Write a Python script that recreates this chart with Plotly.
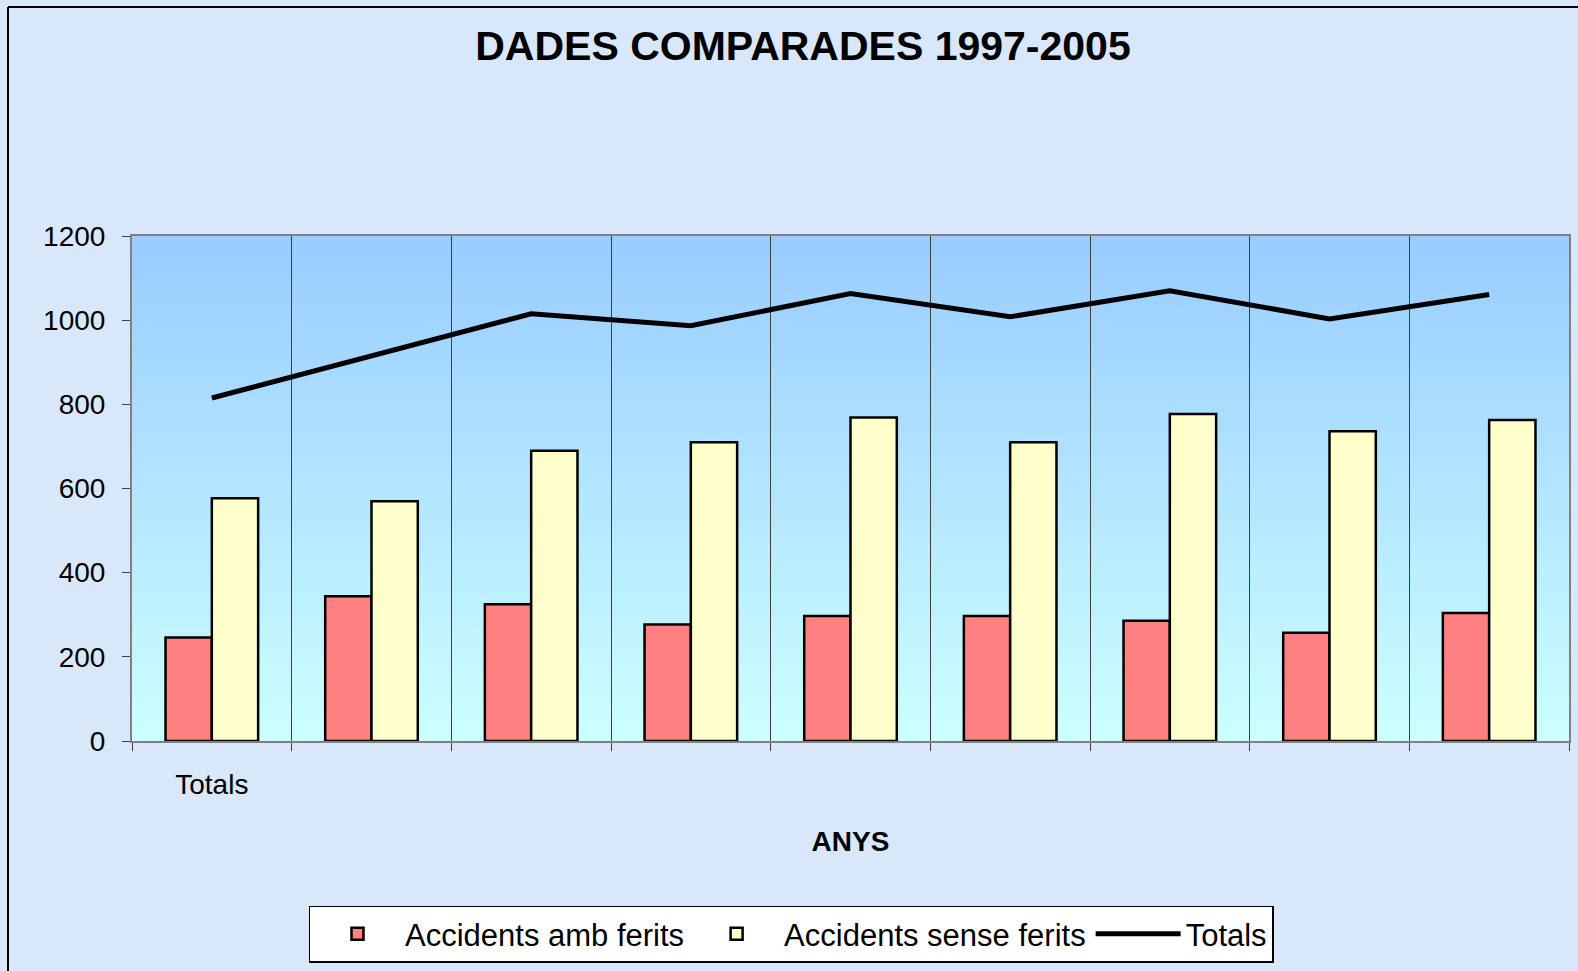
import plotly.graph_objects as go

# ---- data ----
years = ["1997", "1998", "1999", "2000", "2001", "2002", "2003", "2004", "2005"]
tick_labels = ["Totals", "", "", "", "", "", "", "", ""]
amb_ferits = [246, 344, 325, 277, 297, 297, 286, 257, 304]
sense_ferits = [577, 570, 690, 710, 769, 710, 777, 736, 763]
totals = [815, 915, 1015, 987, 1063, 1008, 1070, 1003, 1061]
y_ticks = [0, 200, 400, 600, 800, 1000, 1200]

FONT = "Liberation Sans, Arial, sans-serif"

fig = go.Figure()
fig.add_trace(go.Bar(
    x=years, y=amb_ferits, name="Accidents amb ferits",
    marker=dict(color="#FF8080", line=dict(color="black", width=2.5)),
))
fig.add_trace(go.Bar(
    x=years, y=sense_ferits, name="Accidents sense ferits",
    marker=dict(color="#FFFFCC", line=dict(color="black", width=2.5)),
))
fig.add_trace(go.Scatter(
    x=years, y=totals, name="Totals", mode="lines",
    line=dict(color="black", width=5),
))

# gradient plot-area background (top #99CCFF -> bottom #CCFFFF)
shapes = []
n = 80
top = (0x99, 0xCC, 0xFF)
bot = (0xCC, 0xFF, 0xFF)
for i in range(n):
    t = i / (n - 1)
    c = tuple(round(bot[k] + (top[k] - bot[k]) * t) for k in range(3))
    shapes.append(dict(
        type="rect", xref="x domain", yref="y domain",
        x0=0, x1=1, y0=i / n, y1=(i + 1) / n + 0.002,
        fillcolor="rgb(%d,%d,%d)" % c, line=dict(width=0), layer="below",
    ))
# outer frame lines (top and left)
W, H = 1578, 971
L, R, T, B = 132, 9, 236, 230
pw, ph = W - L - R, H - T - B
fx0 = (8 - L) / pw
fy1 = 1 + (T - 7) / ph
fy0 = -(B + 5) / ph
fx1 = 1 + (R + 5) / pw
shapes.append(dict(type="line", xref="paper", yref="paper", x0=fx0, x1=fx1, y0=fy1, y1=fy1,
                   line=dict(color="black", width=2)))
shapes.append(dict(type="line", xref="paper", yref="paper", x0=fx0, x1=fx0, y0=fy0, y1=fy1,
                   line=dict(color="black", width=2)))

fig.update_layout(
    width=W, height=H,
    margin=dict(l=L, r=R, t=T, b=B, autoexpand=False),
    paper_bgcolor="#d8e7fa",
    plot_bgcolor="rgba(0,0,0,0)",
    barmode="group", bargap=0.42, bargroupgap=0,
    font=dict(family=FONT, color="black", size=28),
    title=dict(text="<b>DADES COMPARADES 1997-2005</b>", x=803 / W, xref="container",
               xanchor="center", y=1 - 46 / H, yref="container", yanchor="middle",
               font=dict(size=41, family=FONT, color="black")),
    shapes=shapes,
    showlegend=True,
    legend=dict(orientation="h", xref="container", yref="container",
                x=791 / W, xanchor="center", y=(H - 934) / H, yanchor="middle",
                bgcolor="white", bordercolor="black", borderwidth=1.5,
                font=dict(size=31, family=FONT), itemwidth=85, traceorder="normal"),
)
fig.update_xaxes(
    type="category", tickvals=years, ticktext=tick_labels, automargin=False,
    tickson="boundaries", ticks="outside", ticklen=8, tickcolor="#404040",
    showgrid=True, gridcolor="#404040", gridwidth=1,
    showline=True, linecolor="#808080", linewidth=2, mirror=True,
    ticklabelstandoff=17, tickfont=dict(size=28),
    title=dict(text="<b>ANYS</b>", font=dict(size=28), standoff=33),
)
fig.update_yaxes(
    range=[0, 1200], tickvals=y_ticks, ticks="outside", ticklen=8, tickcolor="#404040",
    showgrid=False, zeroline=False, automargin=False,
    showline=True, linecolor="#808080", linewidth=2, mirror=True,
    ticklabelstandoff=11, tickfont=dict(size=28),
)

fig.write_html("out.html", config={"displayModeBar": False},
               post_script="document.body.style.margin='0';document.body.style.overflow='hidden';")
